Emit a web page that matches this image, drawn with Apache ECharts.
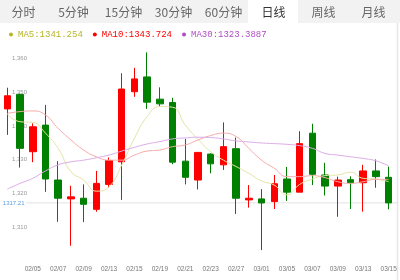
<!DOCTYPE html>
<html><head><meta charset="utf-8">
<script src="https://cdn.jsdelivr.net/npm/echarts@6/dist/echarts.min.js"></script>
<style>html,body{margin:0;padding:0;background:#fff}#c{width:400px;height:280px}</style>
</head><body><div id="c"></div>
<script>
const categories = ['02/01','02/02','02/05','02/06','02/07','02/08','02/09','02/12','02/13','02/14','02/15','02/16','02/19','02/20','02/21','02/22','02/23','02/26','02/27','02/28','03/01','03/02','03/05','03/06','03/07','03/08','03/09','03/12','03/13','03/14','03/15'];
const openPrices  = [1345.1,1349.4,1332.4,1340.3,1324.0,1318.4,1318.6,1315.3,1322.7,1329.4,1350.2,1354.6,1348.0,1347.0,1329.6,1324.0,1331.7,1328.5,1333.3,1318.1,1318.4,1317.6,1324.3,1320.4,1337.9,1325.5,1322.2,1324.1,1323.2,1326.7,1324.8];
const closePrices = [1349.0,1333.4,1339.8,1324.3,1318.6,1319.0,1316.8,1323.0,1329.8,1351.0,1354.0,1347.1,1346.6,1329.3,1324.8,1332.2,1328.8,1333.9,1318.6,1318.6,1317.2,1322.9,1320.4,1334.8,1325.7,1322.2,1324.0,1323.2,1326.7,1325.0,1317.21];
const lowPrices   = [1337.4,1327.7,1329.3,1320.5,1311.6,1304.5,1311.5,1314.6,1321.7,1318.1,1348.7,1345.1,1345.8,1328.7,1322.7,1321.2,1326.0,1327.0,1313.9,1315.8,1303.2,1315.4,1317.8,1320.4,1322.5,1319.4,1313.1,1315.4,1314.6,1321.7,1315.3];
const highPrices  = [1351.4,1349.6,1340.8,1346.3,1329.6,1322.3,1322.7,1326.7,1330.7,1355.7,1357.3,1361.9,1351.5,1348.4,1336.2,1332.2,1331.9,1341.1,1336.6,1322.5,1321.3,1325.5,1327.9,1338.5,1340.7,1329.1,1325.0,1325.1,1328.5,1330.1,1328.0];
const ma5  = [1343.5,1341.3,1341.1,1337.9,1333.4,1326.5,1324.0,1320.7,1322.0,1328.5,1336.4,1342.8,1345.8,1345.6,1340.3,1336.1,1332.4,1329.9,1328.0,1326.0,1323.7,1322.5,1319.6,1322.7,1324.3,1325.3,1325.5,1326.3,1324.5,1324.3,1323.5];
const ma10 = [1343.8,1344.3,1344.5,1343.3,1339.3,1335.9,1332.9,1330.9,1329.9,1329.9,1331.4,1332.6,1332.9,1333.9,1334.4,1335.9,1337.2,1337.9,1336.9,1333.4,1329.9,1327.5,1325.0,1325.0,1325.3,1324.7,1323.5,1323.0,1323.5,1324.2,1324.2];
const ma30 = [1321.3,1323.0,1324.5,1326.7,1328.5,1329.4,1329.9,1330.6,1331.4,1332.6,1333.7,1334.7,1335.4,1336.2,1336.5,1336.7,1336.6,1336.2,1335.6,1335.3,1335.0,1334.8,1334.6,1334.2,1333.4,1331.9,1331.4,1330.9,1330.4,1329.7,1328.2];
const yTickLabels = [1310,1320,1330,1340,1350,1360];
const tabs = ['分时','5分钟','15分钟','30分钟','60分钟','日线','周线','月线'];
const selectedTab = 5;
const legendNames = ['MA5','MA10','MA30'];
const legendValues = ['1341.254','1343.724','1323.3887'];
const lastPrice = 1317.21;

const candleData = categories.map((c,i)=>[openPrices[i],closePrices[i],lowPrices[i],highPrices[i]]);
const legendColors = ['#b5b528','#ff0000','#b04cc4'];
const lineColors = ['#e4e4a4','#f8a8a8','#dcaae6'];

const chart = echarts.init(document.getElementById('c'), null, {renderer:'canvas'});

function tabGraphics(){
  const g = [{type:'rect', shape:{x:0,y:0,width:400,height:23}, style:{fill:'#f2f2f2'}, silent:true},
             {type:'rect', shape:{x:248,y:0,width:50,height:23}, style:{fill:'#ffffff'}, silent:true}];
  tabs.forEach((t,i)=>{
    g.push({type:'text', x:50*i+23.5, y:12.5, style:{text:t, fill: i===selectedTab?'#333':'#666', font:'12px "Noto Sans CJK SC", sans-serif', textAlign:'center', textVerticalAlign:'middle'}, silent:true});
  });
  g.push({type:'line', shape:{x1:397.5,y1:23,x2:397.5,y2:280}, style:{stroke:'#e6e6e6', lineWidth:1.5}, silent:true});
  return g;
}

chart.setOption({
  animation:false,
  backgroundColor:'#fff',
  legend:{
    left:4, top:25, itemWidth:4, itemHeight:4, itemGap:10, icon:'circle',
    data: legendNames.map((n,i)=>({name:n, itemStyle:{color:legendColors[i]}, textStyle:{color:legendColors[i]}})),
    formatter: n => n + ':' + legendValues[legendNames.indexOf(n)],
    textStyle:{fontFamily:'"Liberation Mono", monospace', fontSize:9}
  },
  grid:{left:1, right:5, top:48.6, bottom:19.1},
  xAxis:{
    type:'category', data:categories, boundaryGap:true,
    axisLine:{show:false}, axisTick:{show:false}, splitLine:{show:false},
    axisLabel:{color:'#777', fontSize:6.5, margin:5, fontFamily:'"Liberation Sans", Arial, sans-serif',
      interval:(i)=> i>0 && i%2===0}
  },
  yAxis:{
    type:'value', min:1300, max:1363, interval:10, scale:true,
    axisLine:{show:false}, axisTick:{show:false}, splitLine:{show:false},
    axisLabel:{inside:true, margin:11, color:'#999', fontSize:6, fontFamily:'"Liberation Sans", Arial, sans-serif',
      formatter: v => yTickLabels.includes(v) ? v.toLocaleString('en-US') : ''}
  },
  series:[
    {type:'candlestick', name:'K', data:candleData, barWidth:7,
     itemStyle:{color:'#ff0000', color0:'#008000', borderColor:'#ff0000', borderColor0:'#008000', borderWidth:1}},
    {type:'line', name:'MA5', data:ma5, smooth:true, symbol:'none', lineStyle:{width:1, color:lineColors[0]}, itemStyle:{color:lineColors[0]}},
    {type:'line', name:'MA10', data:ma10, smooth:true, symbol:'none', lineStyle:{width:1, color:lineColors[1]}, itemStyle:{color:lineColors[1]}},
    {type:'line', name:'MA30', data:ma30, smooth:true, symbol:'none', lineStyle:{width:1, color:lineColors[2]}, itemStyle:{color:lineColors[2]}}
  ],
  graphic: tabGraphics()
});

const py = chart.convertToPixel({yAxisIndex:0}, lastPrice);
const g = tabGraphics();
g.push({type:'line', z:-1, shape:{x1:26,y1:py,x2:397,y2:py}, style:{stroke:'#e2e2e2', lineWidth:1}, silent:true});
g.push({type:'text', x:24.5, y:py, style:{text:String(lastPrice), fill:'#5b9be0', font:'6px "Liberation Sans", Arial, sans-serif', textAlign:'right', textVerticalAlign:'middle'}, silent:true});
chart.setOption({graphic: g}, {replaceMerge:['graphic']});
</script></body></html>
